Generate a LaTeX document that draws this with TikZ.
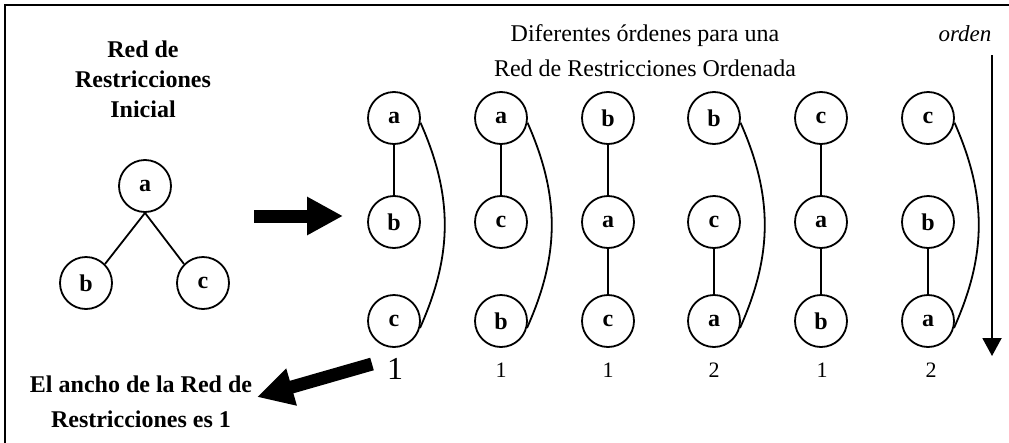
\documentclass[tikz,border=0pt]{standalone}
\usepackage{fontspec}
\setmainfont{Liberation Serif}
\usetikzlibrary{arrows.meta}
\begin{document}
\begin{tikzpicture}[x=1pt,y=-1pt,
  var/.style={circle,draw,line width=1.8pt,minimum size=52pt,inner sep=0pt,
    font=\fontsize{24}{24}\selectfont\bfseries},
  link/.style={line width=1.8pt},
  curvelink/.style={line width=1.8pt,bend left=24},
  bigarrow/.style={line width=13pt,-{Triangle[length=36pt,width=36pt]}},
  btxt/.style={align=center,font=\fontsize{24}{30}\selectfont\bfseries},
  ntxt/.style={font=\fontsize{22}{22}\selectfont}]
\useasboundingbox (0,0) rectangle (1009,442);
% frame
\draw[line width=2.5pt] (5,460) -- (5,5) -- (1030,5);

% initial network
\node[btxt] (title) at (143,79) {Red de\\Restricciones\\Inicial};
\node[var] (ta) at (145,186) {a};
\node[var] (tb) at (86,283) {b};
\node[var] (tc) at (203,283) {c};
\draw[link] (ta.south) -- (tb.north east);
\draw[link] (ta.south) -- (tc.north west);

% transformation arrow
\coordinate (r0) at (254,216);
\coordinate (r1) at (343,216);
\draw[bigarrow] (r0) -- (r1);

% header
\node[align=center,font=\fontsize{24}{35}\selectfont] (head) at (645,51)
  {Diferentes órdenes para una\\Red de Restricciones Ordenada};
\node[font=\fontsize{23}{23}\selectfont\itshape] (ord) at (965,34) {orden};
\coordinate (o0) at (992,55);
\coordinate (o1) at (992,356);
\draw[line width=2pt,-{Triangle[length=18pt,width=19pt]}] (o0) -- (o1);

% ordered networks
\foreach \i/\x/\p/\q/\r in {1/394/a/b/c, 2/501/a/c/b, 3/608/b/a/c,
                           4/714/b/c/a, 5/821/c/a/b, 6/928/c/b/a} {
  \node[var] (t\i) at (\x,118) {\p};
  \node[var] (m\i) at (\x,222) {\q};
  \node[var] (b\i) at (\x,321) {\r};
}
\draw[link] (t1) -- (m1);
\draw[curvelink] (t1.-10) to (b1.-15);
\draw[link] (t2) -- (m2);
\draw[curvelink] (t2.-10) to (b2.-15);
\draw[link] (t3) -- (m3);
\draw[link] (m3) -- (b3);
\draw[link] (m4) -- (b4);
\draw[curvelink] (t4.-10) to (b4.-15);
\draw[link] (t5) -- (m5);
\draw[link] (m5) -- (b5);
\draw[link] (m6) -- (b6);
\draw[curvelink] (t6.-10) to (b6.-15);

% widths
\node[font=\fontsize{32}{32}\selectfont] (w1) at (395,369) {1};
\node[ntxt] (w2) at (501,370) {1};
\node[ntxt] (w3) at (608,370) {1};
\node[ntxt] (w4) at (714,370) {2};
\node[ntxt] (w5) at (822,370) {1};
\node[ntxt] (w6) at (931,370) {2};

% result
\coordinate (l0) at (372,364);
\coordinate (l1) at (257,397);
\draw[bigarrow] (l0) -- (l1);
\node[align=center,font=\fontsize{24}{35}\selectfont\bfseries] (res) at (141,402)
  {El ancho de la Red de\\Restricciones es 1};
\end{tikzpicture}
\end{document}
